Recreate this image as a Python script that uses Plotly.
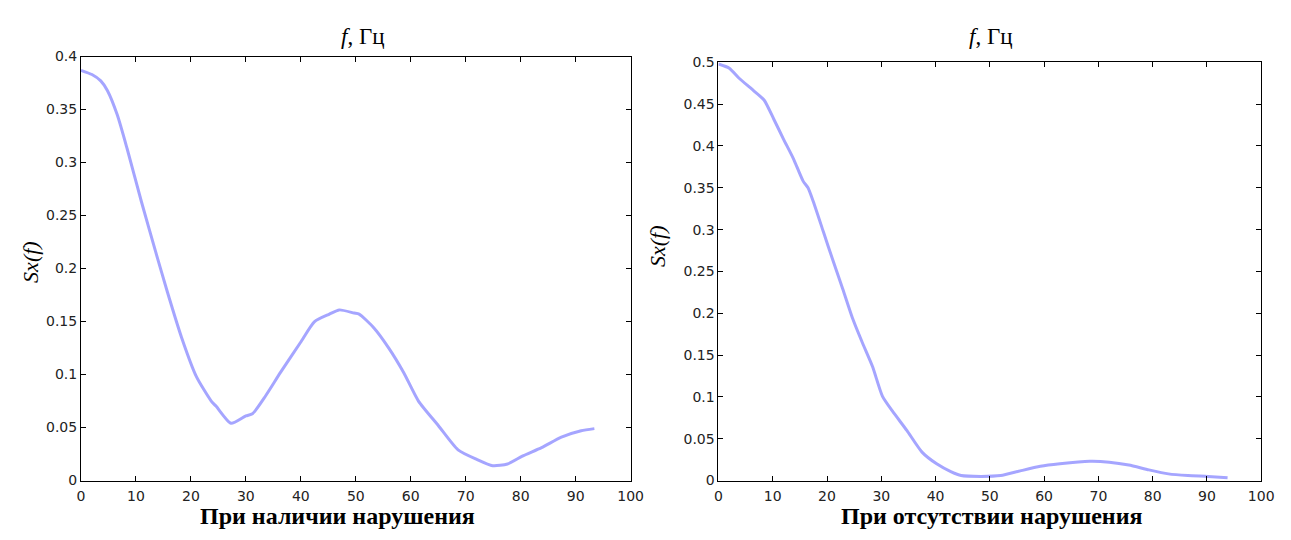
import plotly.graph_objects as go

# Left panel: "При наличии нарушения"
left_f = [0, 2, 3.6, 4.8, 6.6, 8.4, 11, 13.8, 15.6, 18.3, 21, 23.7, 24.6, 27.3, 30, 31.2,
          33.6, 36.3, 39.9, 42.5, 45.2, 47, 49.7, 50.6, 53.3, 56, 58.7, 61.4, 65, 68.6,
          72, 74.9, 77.6, 80.3, 83.8, 87.4, 91, 93.4]
left_s = [0.387, 0.383, 0.377, 0.368, 0.345, 0.313, 0.263, 0.212, 0.180, 0.135, 0.098, 0.075,
          0.070, 0.054, 0.061, 0.063, 0.080, 0.102, 0.130, 0.150, 0.157, 0.161, 0.158, 0.157,
          0.144, 0.125, 0.102, 0.075, 0.052, 0.029, 0.020, 0.014, 0.0156, 0.023, 0.031,
          0.041, 0.047, 0.049]

# Right panel: "При отсутствии нарушения"
right_f = [0, 2, 3.8, 6.5, 8.4, 10.2, 12, 13.8, 15.6, 16.5, 17.5, 19.3, 21.1, 22.9, 24.7,
           26.5, 28.4, 30.2, 32, 34.7, 37.5, 40.2, 42.9, 44.7, 48.4, 52, 55.6, 59.3, 62.9,
           68.4, 72, 75.6, 79.3, 82.9, 86.5, 90.2, 93.8]
right_s = [0.498, 0.493, 0.481, 0.466, 0.455, 0.432, 0.408, 0.385, 0.358, 0.350, 0.333,
           0.298, 0.263, 0.229, 0.194, 0.165, 0.136, 0.101, 0.0835, 0.060, 0.034, 0.020,
           0.0104, 0.006, 0.005, 0.006, 0.0116, 0.017, 0.020, 0.023, 0.022, 0.0186, 0.0128,
           0.008, 0.006, 0.005, 0.0035]

x_ticks = list(range(0, 101, 10))
left_yticks = [0, 0.05, 0.1, 0.15, 0.2, 0.25, 0.3, 0.35, 0.4]
right_yticks = [0, 0.05, 0.1, 0.15, 0.2, 0.25, 0.3, 0.35, 0.4, 0.45, 0.5]
left_ytext = ["0", "0.05", "0.1", "0.15", "0.2", "0.25", "0.3", "0.35", "0.4"]
right_ytext = ["0", "0.05", "0.1", "0.15", "0.2", "0.25", "0.3", "0.35", "0.4", "0.45", "0.5"]

W, H = 1291, 540
line_color = "rgba(130,130,255,0.72)"

fig = go.Figure()
fig.add_trace(go.Scatter(x=left_f, y=left_s, mode="lines", xaxis="x", yaxis="y",
                         line=dict(color=line_color, width=3, shape="spline", smoothing=0.6),
                         showlegend=False))
fig.add_trace(go.Scatter(x=right_f, y=right_s, mode="lines", xaxis="x2", yaxis="y2",
                         line=dict(color=line_color, width=3, shape="spline", smoothing=0.6),
                         showlegend=False))

tickfont = dict(family="DejaVu Sans, Arial, sans-serif", size=14, color="#222")
axis_common = dict(showline=True, linecolor="black", linewidth=1, mirror="ticks",
                   ticks="inside", ticklen=5, tickcolor="black", showgrid=False,
                   zeroline=False, tickfont=tickfont)

fig.update_layout(
    width=W, height=H,
    margin=dict(l=0, r=0, t=0, b=0),
    paper_bgcolor="white", plot_bgcolor="white",
    xaxis=dict(domain=[78 / W, 635 / W], range=[0, 100], tickvals=x_ticks,
               anchor="y", ticklabelstandoff=3, **axis_common),
    yaxis=dict(domain=[1 - 487 / H, 1 - 50 / H], range=[0, 0.4], tickvals=left_yticks,
               ticktext=left_ytext, anchor="x", **axis_common),
    xaxis2=dict(domain=[724 / W, 1274 / W], range=[0, 100], tickvals=x_ticks,
                anchor="y2", ticklabelstandoff=3, **axis_common),
    yaxis2=dict(domain=[1 - 487 / H, 1 - 56 / H], range=[0, 0.5], tickvals=right_yticks,
                ticktext=right_ytext, anchor="x2", **axis_common),
)

serif = "Liberation Serif, Times New Roman, serif"
annots = [
    dict(x=364 / W, y=1 - 29 / H, text="<i>f</i>, Гц", font=dict(family=serif, size=23, color="black")),
    dict(x=1000 / W, y=1 - 29 / H, text="<i>f</i>, Гц", font=dict(family=serif, size=23, color="black")),
    dict(x=338 / W, y=1 - 524 / H, text="<b>При наличии нарушения</b>", font=dict(family=serif, size=24, color="black")),
    dict(x=1001 / W, y=1 - 524 / H, text="<b>При отсутствии нарушения</b>", font=dict(family=serif, size=24, color="black")),
    dict(x=27 / W, y=1 - 262 / H, text="<i>Sx(f)</i>", textangle=-90, font=dict(family=serif, size=22, color="black")),
    dict(x=662 / W, y=1 - 245 / H, text="<i>Sx(f)</i>", textangle=-90, font=dict(family=serif, size=22, color="black")),
]
for a in annots:
    fig.add_annotation(xref="paper", yref="paper", showarrow=False,
                       xanchor="center", yanchor="middle", **a)

fig.write_html("out.html")
